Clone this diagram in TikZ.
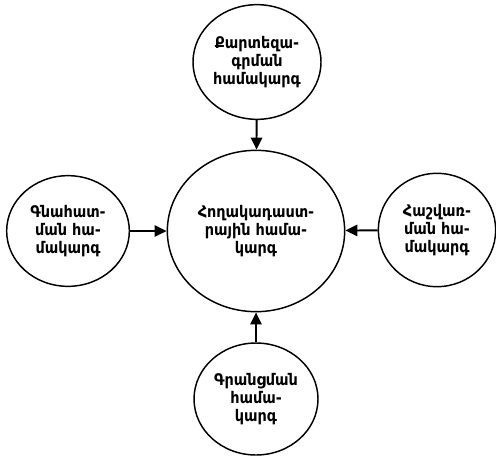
\documentclass[tikz,border=0pt]{standalone}
\usepackage{fontspec}
\setmainfont{DejaVu Sans Condensed}
\usetikzlibrary{shapes.geometric,arrows.meta}
\begin{document}
\begin{tikzpicture}[x=0.75pt,y=-0.75pt,
  ell/.style={draw,ellipse,line width=1.1pt,inner sep=0pt,align=center,
    font=\fontsize{12}{13.2}\selectfont\bfseries},
  conn/.style={line width=1.4pt,-{Triangle[length=9pt,width=8.5pt]}}]
\useasboundingbox (0,0) rectangle (496,457);
\node[ell,minimum width=96pt,minimum height=86pt] (top) at (257,62) {Քարտեզա-\\գրման\\համակարգ};
\node[ell,minimum width=133pt,minimum height=121pt] (c) at (256,231) {Հողակադաստ-\\րային համա-\\կարգ};
\node[ell,minimum width=92pt,minimum height=83pt] (l) at (68,231) {Գնահատ-\\ման հա-\\մակարգ};
\node[ell,minimum width=88pt,minimum height=85pt] (r) at (437,230) {Հաշվառ-\\ման հա-\\մակարգ};
\node[ell,minimum width=93pt,minimum height=84pt] (b) at (256,399) {Գրանցման\\համա-\\կարգ};
\draw[conn] (top) -- (c);
\draw[conn] (l) -- (c);
\draw[conn] (r) -- (c);
\draw[conn] (b) -- (c);
\end{tikzpicture}
\end{document}
